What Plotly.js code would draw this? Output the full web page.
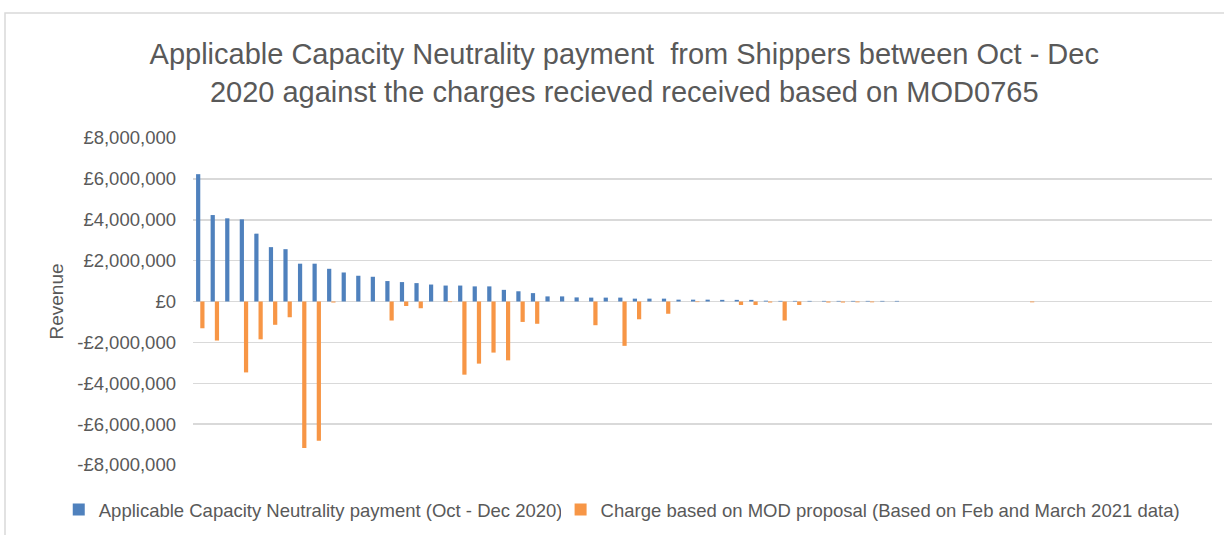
<!DOCTYPE html>
<html>
<head>
<meta charset="utf-8">
<script src="https://cdn.plot.ly/plotly-3.0.1.min.js"></script>
<style>
html,body{margin:0;padding:0;background:#fff;}
#chart{width:1224px;height:535px;}
</style>
</head>
<body>
<div id="chart"></div>
<script>
const categories = ["1","2","3","4","5","6","7","8","9","10",
  "11","12","13","14","15","16","17","18","19","20",
  "21","22","23","24","25","26","27","28","29","30",
  "31","32","33","34","35","36","37","38","39","40",
  "41","42","43","44","45","46","47","48","49","50",
  "51","52","53","54","55","56","57","58","59","60",
  "61","62","63","64","65","66","67","68","69","70"];

const neutralityPayment = [6230000,4230000,4070000,4020000,3320000,2660000,2560000,1850000,1850000,1600000,
  1420000,1260000,1210000,1000000,950000,900000,830000,780000,780000,740000,
  740000,570000,500000,410000,250000,250000,200000,190000,190000,190000,
  140000,140000,140000,90000,90000,90000,80000,80000,80000,40000,
  30000,30000,30000,30000,30000,30000,30000,30000,30000,0,
  0,0,0,0,0,0,0,0,0,0,
  0,0,0,0,0,0,0,0,0,0];

const modCharge = [-1310000,-1910000,0,-3470000,-1850000,-1140000,-770000,-7170000,-6810000,-50000,
  0,0,0,-930000,-220000,-330000,0,-30000,-3580000,-3040000,
  -2500000,-2880000,-1000000,-1090000,0,0,0,-1160000,0,-2170000,
  -870000,0,-600000,0,-30000,0,0,-170000,-170000,-50000,
  -930000,-170000,0,-50000,-50000,-40000,-40000,0,0,0,
  0,0,0,0,0,0,0,-40000,0,0,
  0,0,0,0,0,0,0,0,0,0];

const seriesNames = ["Applicable Capacity Neutrality payment (Oct - Dec 2020)",
  "Charge based on MOD proposal (Based on Feb and March 2021 data)"];

const yTickVals = [8000000,6000000,4000000,2000000,0,-2000000,-4000000,-6000000,-8000000];
const yTickText = ["£8,000,000","£6,000,000","£4,000,000","£2,000,000","£0","-£2,000,000","-£4,000,000","-£6,000,000","-£8,000,000"];

const titleText = "Applicable Capacity Neutrality payment  from Shippers between Oct - Dec<br>2020 against the charges recieved received based on MOD0765";

const FONT = "Liberation Sans, Arial, sans-serif";
const GREY = "#595959";

const traces = [
  {type:"bar", name:seriesNames[0], x:categories, y:neutralityPayment,
   marker:{color:"#4F81BD"}, legend:"legend"},
  {type:"bar", name:seriesNames[1], x:categories, y:modCharge,
   marker:{color:"#F79646"}, legend:"legend2"}
];

const legendFont = {family:FONT, size:18.5, color:GREY};

const layout = {
  width:1224, height:535,
  paper_bgcolor:"#ffffff", plot_bgcolor:"#ffffff",
  margin:{l:193, r:12, t:138, b:70},
  font:{family:FONT, color:GREY},
  title:{text:titleText, font:{family:FONT, size:29, color:GREY},
         x:0.51, xanchor:"center", y:0.88, yanchor:"top", xref:"container", yref:"container"},
  barmode:"group", bargap:0.42, bargroupgap:0,
  showlegend:true,
  legend:{orientation:"h", xref:"container", yref:"container", x:0.048, xanchor:"left",
          y:0.047, yanchor:"middle", font:legendFont, itemwidth:30},
  legend2:{orientation:"h", xref:"container", yref:"container", x:0.458, xanchor:"left",
          y:0.047, yanchor:"middle", font:legendFont, itemwidth:30},
  xaxis:{type:"category", showticklabels:false, showgrid:false, zeroline:false,
         showline:false, ticks:"", fixedrange:true},
  yaxis:{range:[-8000000,8000000], tickvals:yTickVals, ticktext:yTickText,
         showgrid:true, gridcolor:"#d9d9d9", gridwidth:1.5,
         zeroline:true, zerolinecolor:"#d9d9d9", zerolinewidth:1.5,
         showline:false, ticks:"", ticklabelstandoff:16,
         tickfont:{family:FONT, size:18.5, color:GREY},
         title:{text:"Revenue", font:{family:FONT, size:19, color:GREY}, standoff:8}},
  shapes:[{type:"rect", xref:"paper", yref:"paper", x0:-0.1845, x1:1.05, y0:-0.3, y1:1.382,
           line:{color:"#d9d9d9", width:1.5}, fillcolor:"rgba(0,0,0,0)", layer:"below"}]
};

Plotly.newPlot("chart", traces, layout, {displayModeBar:false, staticPlot:true});
</script>
</body>
</html>
